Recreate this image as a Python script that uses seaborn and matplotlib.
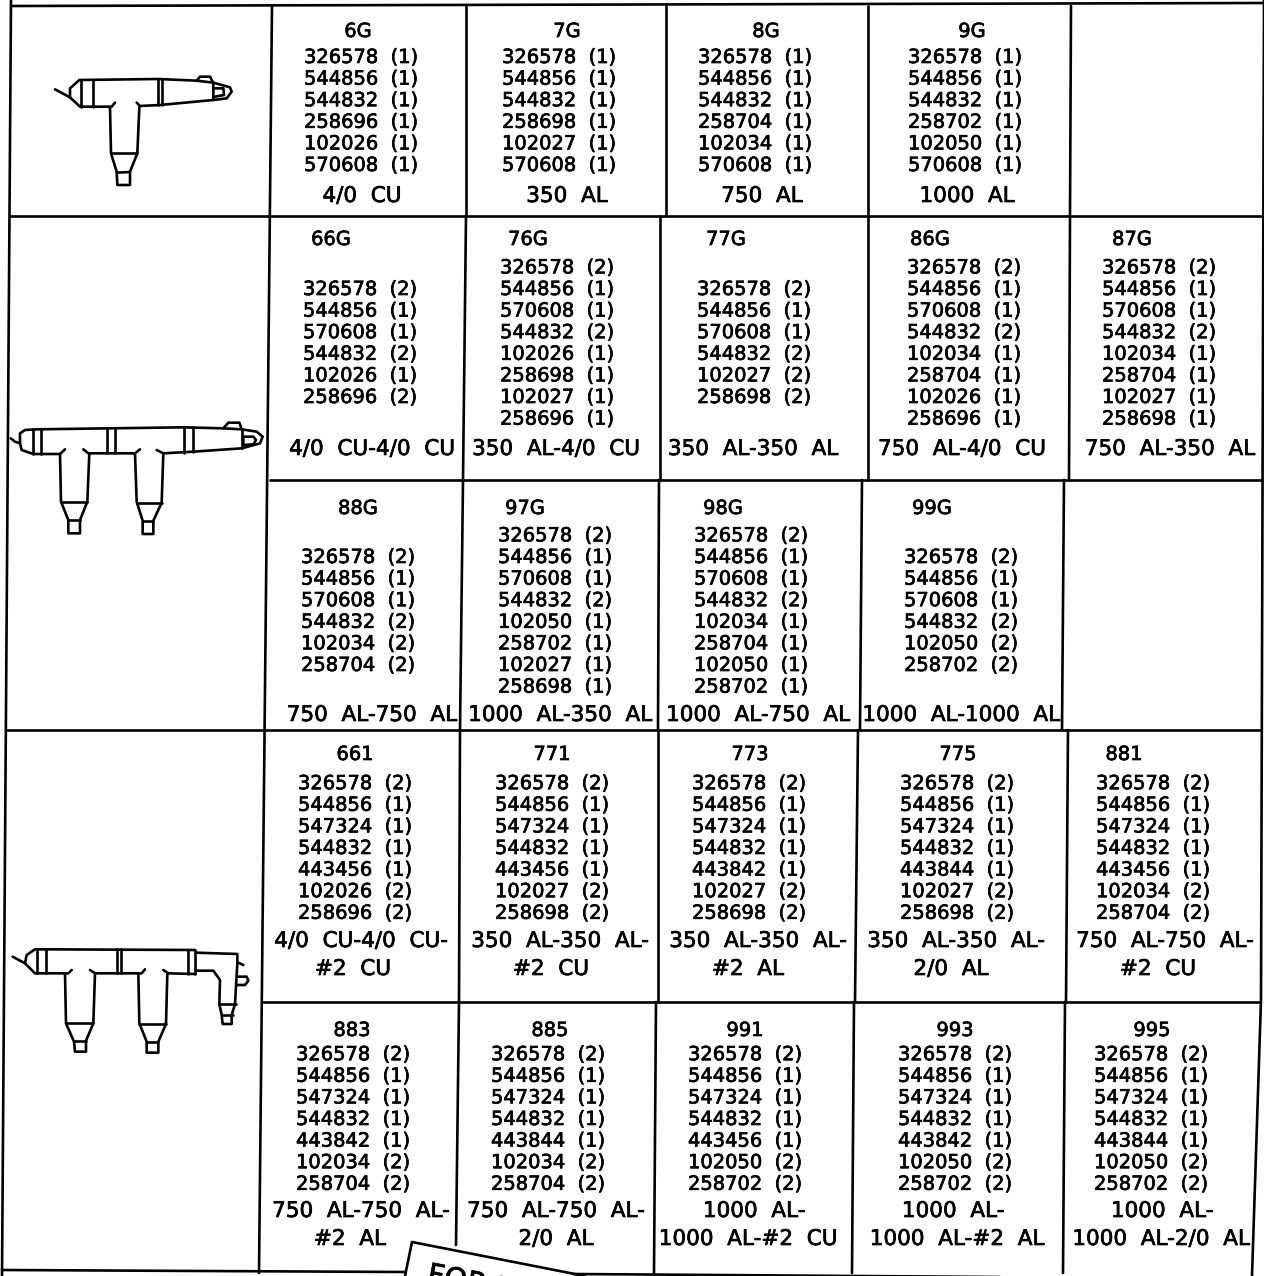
import matplotlib
matplotlib.use('Agg')
import matplotlib.patheffects as pe
import matplotlib.pyplot as plt
import pandas as pd
import seaborn as sns

# part lists, one small block per table row
titles_1 = ['6G', '7G', '8G', '9G']
parts_1 = [
    ['326578  (1)', '544856  (1)', '544832  (1)', '258696  (1)', '102026  (1)', '570608  (1)'],
    ['326578  (1)', '544856  (1)', '544832  (1)', '258698  (1)', '102027  (1)', '570608  (1)'],
    ['326578  (1)', '544856  (1)', '544832  (1)', '258704  (1)', '102034  (1)', '570608  (1)'],
    ['326578  (1)', '544856  (1)', '544832  (1)', '258702  (1)', '102050  (1)', '570608  (1)'],
]
labels_1 = ['4/0 CU', '350 AL', '750 AL', '1000 AL']

titles_2 = ['66G', '76G', '77G', '86G', '87G']
parts_2 = [
    ['326578  (2)', '544856  (1)', '570608  (1)', '544832  (2)', '102026  (1)', '258696  (2)'],
    ['326578  (2)', '544856  (1)', '570608  (1)', '544832  (2)', '102026  (1)', '258698  (1)', '102027  (1)', '258696  (1)'],
    ['326578  (2)', '544856  (1)', '570608  (1)', '544832  (2)', '102027  (2)', '258698  (2)'],
    ['326578  (2)', '544856  (1)', '570608  (1)', '544832  (2)', '102034  (1)', '258704  (1)', '102026  (1)', '258696  (1)'],
    ['326578  (2)', '544856  (1)', '570608  (1)', '544832  (2)', '102034  (1)', '258704  (1)', '102027  (1)', '258698  (1)'],
]
labels_2 = ['4/0 CU-4/0 CU', '350 AL-4/0 CU', '350 AL-350 AL', '750 AL-4/0 CU', '750 AL-350 AL']

titles_3 = ['88G', '97G', '98G', '99G']
parts_3 = [
    ['326578  (2)', '544856  (1)', '570608  (1)', '544832  (2)', '102034  (2)', '258704  (2)'],
    ['326578  (2)', '544856  (1)', '570608  (1)', '544832  (2)', '102050  (1)', '258702  (1)', '102027  (1)', '258698  (1)'],
    ['326578  (2)', '544856  (1)', '570608  (1)', '544832  (2)', '102034  (1)', '258704  (1)', '102050  (1)', '258702  (1)'],
    ['326578  (2)', '544856  (1)', '570608  (1)', '544832  (2)', '102050  (2)', '258702  (2)'],
]
labels_3 = ['750 AL-750 AL', '1000 AL-350 AL', '1000 AL-750 AL', '1000 AL-1000 AL']

titles_4 = ['661', '771', '773', '775', '881']
parts_4 = [
    ['326578  (2)', '544856  (1)', '547324  (1)', '544832  (1)', '443456  (1)', '102026  (2)', '258696  (2)'],
    ['326578  (2)', '544856  (1)', '547324  (1)', '544832  (1)', '443456  (1)', '102027  (2)', '258698  (2)'],
    ['326578  (2)', '544856  (1)', '547324  (1)', '544832  (1)', '443842  (1)', '102027  (2)', '258698  (2)'],
    ['326578  (2)', '544856  (1)', '547324  (1)', '544832  (1)', '443844  (1)', '102027  (2)', '258698  (2)'],
    ['326578  (2)', '544856  (1)', '547324  (1)', '544832  (1)', '443456  (1)', '102034  (2)', '258704  (2)'],
]
labels_4 = [['4/0 CU-4/0 CU-', '#2 CU'], ['350 AL-350 AL-', '#2 CU'], ['350 AL-350 AL-', '#2 AL'],
            ['350 AL-350 AL-', '2/0 AL'], ['750 AL-750 AL-', '#2 CU']]

titles_5 = ['883', '885', '991', '993', '995']
parts_5 = [
    ['326578  (2)', '544856  (1)', '547324  (1)', '544832  (1)', '443842  (1)', '102034  (2)', '258704  (2)'],
    ['326578  (2)', '544856  (1)', '547324  (1)', '544832  (1)', '443844  (1)', '102034  (2)', '258704  (2)'],
    ['326578  (2)', '544856  (1)', '547324  (1)', '544832  (1)', '443456  (1)', '102050  (2)', '258702  (2)'],
    ['326578  (2)', '544856  (1)', '547324  (1)', '544832  (1)', '443842  (1)', '102050  (2)', '258702  (2)'],
    ['326578  (2)', '544856  (1)', '547324  (1)', '544832  (1)', '443844  (1)', '102050  (2)', '258702  (2)'],
]
labels_5 = [['750 AL-750 AL-', '#2 AL'], ['750 AL-750 AL-', '2/0 AL'], ['1000 AL-', '1000 AL-#2 CU'],
            ['1000 AL-', '1000 AL-#2 AL'], ['1000 AL-', '1000 AL-2/0 AL']]

sns.set_style('white')
plt.rcParams['font.family'] = ['DejaVu Sans']

LINE = 21.6
FS = 14
FS_LABEL = 15.5
HEAVY = [pe.withStroke(linewidth=0.5, foreground='black')]

fig = plt.figure(figsize=(12.64, 12.76), dpi=100)
ax = fig.add_axes([0, 0, 1, 1])
ax.set_xlim(0, 1264)
ax.set_ylim(1276, 0)
ax.axis('off')


def txt(x, y, s, ha='center', size=FS):
    # y is the middle of the caps
    ax.text(x, y + 7, s, ha=ha, va='baseline', fontsize=size, color='black', path_effects=HEAVY)


def cell_row(titles, parts, labels, title_x, part_x, label_x, title_y, mid_y, label_y):
    for i, t in enumerate(titles):
        txt(title_x[i], title_y, t)
        n = len(parts[i])
        for k, p in enumerate(parts[i]):
            txt(part_x[i], mid_y + (k - (n - 1) / 2) * LINE, p, ha='left')
        lab = labels[i] if isinstance(labels[i], list) else [labels[i]]
        xs = label_x[i] if isinstance(label_x[i], tuple) else (label_x[i],)
        for k, s in enumerate(lab):
            txt(xs[k], label_y + k * 28, s.replace(' ', '  '), size=FS_LABEL)


cell_row(titles_1, parts_1, labels_1, [358, 567, 766, 972], [304, 502, 698, 908], [362, 567, 762, 967], 30, 110, 195)
cell_row(titles_2, parts_2, labels_2, [331, 528, 726, 930, 1132], [303, 500, 697, 907, 1102],
         [372, 556, 753, 962, 1170], 238, 342, 448)
cell_row(titles_3, parts_3, labels_3, [358, 525, 723, 932, 0], [301, 498, 694, 904], [372, 560, 758, 961], 507, 610, 714)
cell_row(titles_4, parts_4, labels_4, [355, 552, 750, 958, 1124], [298, 495, 692, 900, 1096],
         [(361, 353), (560, 551), (758, 748), (956, 951), (1165, 1158)], 753, 847, 940)
cell_row(titles_5, parts_5, labels_5, [352, 550, 745, 955, 1152], [296, 491, 688, 898, 1094],
         [(361, 350), (556, 556), (754, 748), (953, 957), (1162, 1161)], 1029, 1118, 1210)

# table frame and cell rules
grid = [
    [(11, 6), (1264, 3)], [(10, 216), (1263, 216)], [(270, 480), (1262, 480)], [(6, 730), (1261, 730)],
    [(263, 1002), (1259, 1002)], [(2, 1270), (405, 1272)], [(573, 1274), (1000, 1277)],
    [(11, 0), (2, 1276)], [(272, 6), (259, 1273)], [(1264, 0), (1261, 1000), (1252, 1276)],
    [(466, 6), (466, 216)], [(666, 6), (666, 216)], [(868, 6), (868, 216)], [(1071, 6), (1070, 216)],
    [(466, 216), (463, 480)], [(660, 216), (660, 480)], [(868, 216), (868, 480)], [(1070, 216), (1069, 480)],
    [(463, 480), (460, 730)], [(659, 480), (658, 730)], [(862, 480), (860, 730)], [(1064, 480), (1062, 730)],
    [(460, 730), (459, 1002)], [(658, 730), (658, 1002)], [(858, 730), (855, 1002)], [(1068, 730), (1066, 1002)],
    [(459, 1002), (456, 1245)], [(656, 1002), (654, 1273)], [(854, 1002), (852, 1273)], [(1065, 1002), (1063, 1273)],
    # sticker over the bottom edge
    [(405, 1276), (412, 1242), (585, 1276)],
]


def shift(strokes, ox, oy):
    return [[(ox + x / 3, oy + y / 3) for x, y in s] for s in strokes]


tap_1 = [
    [(165, 268), (210, 292)],
    [(345, 308), (335, 320), (240, 320), (210, 292), (210, 265), (238, 240), (475, 237), (590, 242), (640, 248), (640, 300), (480, 315), (420, 318), (410, 308)],
    [(590, 242), (600, 230), (630, 230), (638, 245)],
    [(243, 240), (243, 320)], [(278, 240), (278, 320)], [(475, 237), (475, 315)], [(487, 237), (487, 315)],
    [(640, 248), (690, 262), (695, 275), (680, 295), (640, 300)],
    [(645, 265), (670, 265), (672, 285), (645, 290)],
    [(330, 322), (333, 460), (350, 515), (352, 555), (390, 555), (390, 515), (412, 460), (418, 322)],
    [(333, 460), (412, 460)], [(350, 518), (390, 516)],
]
tap_2 = [
    [(32, 115), (45, 125), (60, 130)],
    [(195, 148), (180, 162), (100, 162), (65, 150), (60, 130), (60, 100), (75, 90), (110, 88), (550, 82), (670, 85), (725, 88), (770, 95), (788, 110), (780, 130), (725, 145), (580, 155), (490, 160), (470, 150)],
    [(250, 148), (265, 160), (405, 160), (420, 148)],
    [(670, 85), (685, 68), (718, 68), (725, 88)], [(725, 88), (725, 145)],
    [(100, 88), (100, 162)], [(122, 88), (122, 162)], [(322, 85), (322, 160)], [(345, 85), (345, 160)],
    [(552, 80), (552, 158)], [(580, 80), (580, 155)],
    [(730, 110), (760, 110), (768, 120), (760, 133), (730, 135), (730, 110)],
    [(180, 162), (183, 305), (205, 360), (205, 400), (240, 400), (240, 360), (262, 305), (268, 160)],
    [(183, 305), (262, 305)], [(205, 360), (240, 360)],
    [(405, 160), (410, 305), (428, 362), (428, 402), (460, 402), (460, 362), (485, 308), (490, 160)],
    [(410, 308), (485, 308)], [(428, 362), (460, 362)],
]
tap_3 = [
    [(38, 80), (75, 100)],
    [(215, 120), (205, 130), (105, 130), (75, 100), (80, 75), (105, 58), (140, 58), (585, 60)],
    [(270, 120), (285, 130), (425, 130), (435, 118)], [(490, 120), (505, 130), (585, 132)],
    [(112, 58), (112, 130)], [(138, 58), (138, 130)], [(350, 58), (350, 130)], [(362, 58), (362, 130)],
    [(565, 60), (565, 132)], [(585, 60), (585, 132)],
    [(588, 68), (712, 72), (712, 100), (705, 222), (695, 255), (695, 282), (668, 282), (665, 255), (658, 222), (660, 150), (640, 122), (588, 122)],
    [(658, 222), (708, 222)], [(668, 255), (698, 255)], [(715, 98), (730, 105)],
    [(712, 140), (740, 140), (745, 152), (735, 165), (712, 165)],
    [(195, 130), (198, 280), (222, 335), (225, 365), (258, 365), (258, 332), (280, 280), (285, 130)],
    [(198, 280), (280, 280)], [(222, 332), (258, 332)],
    [(415, 130), (418, 280), (440, 335), (440, 368), (475, 368), (475, 335), (498, 282), (502, 130)],
    [(418, 282), (498, 282)], [(440, 335), (475, 335)],
]

strokes = grid + shift(tap_1, 0, 0) + shift(tap_2, 0, 400) + shift(tap_3, 0, 930)
rows = [(x, y, i) for i, s in enumerate(strokes) for x, y in s]
df = pd.DataFrame(rows, columns=['x', 'y', 'stroke'])
sns.lineplot(data=df, x='x', y='y', units='stroke', estimator=None, sort=False, color='black',
             linewidth=1.9, ax=ax, legend=False)
ax.set_xlim(0, 1264)
ax.set_ylim(1276, 0)

ax.text(426, 1283, 'FOR F', fontsize=21, rotation=-11, rotation_mode='anchor', ha='left', va='baseline',
        color='black', path_effects=HEAVY)

fig.savefig('out.png', dpi=100)
